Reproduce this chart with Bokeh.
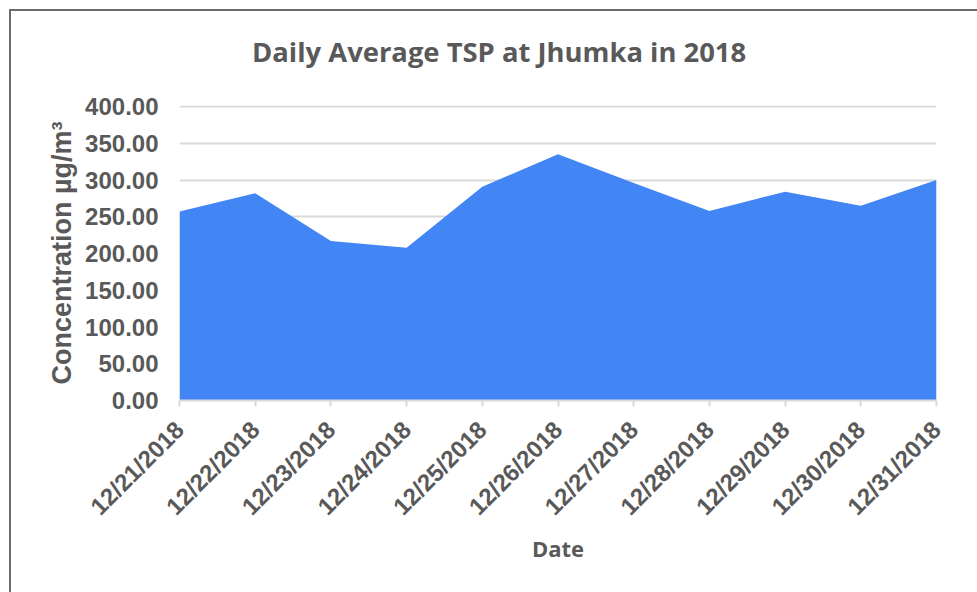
from bokeh.plotting import figure
from bokeh.models import Range1d, FixedTicker, NumeralTickFormatter, Div
from bokeh.layouts import column
from bokeh.embed import file_html
from bokeh.resources import INLINE
import math

title_text = "Daily Average TSP at Jhumka in 2018"
dates = ["12/21/2018", "12/22/2018", "12/23/2018", "12/24/2018", "12/25/2018",
         "12/26/2018", "12/27/2018", "12/28/2018", "12/29/2018", "12/30/2018",
         "12/31/2018"]
tsp = [257, 282, 217, 208, 291, 335, 296, 258, 284, 265, 300]
y_ticks = [0, 50, 100, 150, 200, 250, 300, 350, 400]

idx = list(range(len(dates)))

title_div = Div(
    text=('<div style="padding-left:241px; padding-top:27px; line-height:1; '
          'white-space:nowrap; font-family:\'Open Sans\'; font-weight:bold; '
          'font-size:27.4px; color:#595959;">' + title_text + '</div>'),
    width=966, height=81, margin=0)

p = figure(width=966, height=500, output_backend="svg", toolbar_location=None,
           x_range=Range1d(0, len(dates) - 1), y_range=Range1d(0, 401.4),
           min_border_left=168, min_border_right=41, min_border_top=13,
           min_border_bottom=192, margin=0)
p.title.visible = False

p.varea(x=idx, y1=[0] * len(idx), y2=tsp, fill_color="#4285F4")

p.outline_line_color = None
p.background_fill_color = "white"
p.border_fill_color = "white"

p.xgrid.grid_line_color = None
p.ygrid.grid_line_color = "#d9d9d9"
p.ygrid.grid_line_width = 2
p.ygrid.ticker = FixedTicker(ticks=y_ticks)

p.yaxis.ticker = FixedTicker(ticks=y_ticks)
p.yaxis.formatter = NumeralTickFormatter(format="0.00")
p.yaxis.axis_line_color = None
p.yaxis.major_tick_line_color = None
p.yaxis.minor_tick_line_color = None
p.yaxis.major_label_standoff = 15
p.yaxis.major_label_text_font = "Liberation Sans"
p.yaxis.major_label_text_font_style = "bold"
p.yaxis.major_label_text_font_size = "24px"
p.yaxis.major_label_text_color = "#595959"
p.yaxis.axis_label = "Concentration µg/m³"
p.yaxis.axis_label_text_font = "Liberation Sans"
p.yaxis.axis_label_text_font_style = "bold"
p.yaxis.axis_label_text_font_size = "27px"
p.yaxis.axis_label_text_color = "#595959"
p.yaxis.axis_label_standoff = 5

p.xaxis.ticker = FixedTicker(ticks=idx)
p.xaxis.major_label_overrides = {i: d for i, d in zip(idx, dates)}
p.xaxis.major_label_orientation = math.pi / 4
p.xaxis.axis_line_color = "#d9d9d9"
p.xaxis.axis_line_width = 2
p.xaxis.major_tick_line_color = "#d9d9d9"
p.xaxis.major_tick_line_width = 2
p.xaxis.major_tick_in = 0
p.xaxis.major_tick_out = 6
p.xaxis.minor_tick_line_color = None
p.xaxis.major_label_standoff = 19
p.xaxis.major_label_text_font = "Liberation Sans"
p.xaxis.major_label_text_font_style = "bold"
p.xaxis.major_label_text_font_size = "24px"
p.xaxis.major_label_text_color = "#595959"
p.xaxis.axis_label = "Date"
p.xaxis.axis_label_text_font = "Open Sans"
p.xaxis.axis_label_text_font_style = "bold"
p.xaxis.axis_label_text_font_size = "22px"
p.xaxis.axis_label_text_color = "#595959"
p.xaxis.axis_label_standoff = 0

layout = column(title_div, p, spacing=0, margin=(9, 0, 0, 9),
                styles={"border-left": "2px solid #6b6b6b",
                        "border-top": "2px solid #6b6b6b",
                        "background-color": "white"})

open("out.html", "w").write(file_html(layout, INLINE))
